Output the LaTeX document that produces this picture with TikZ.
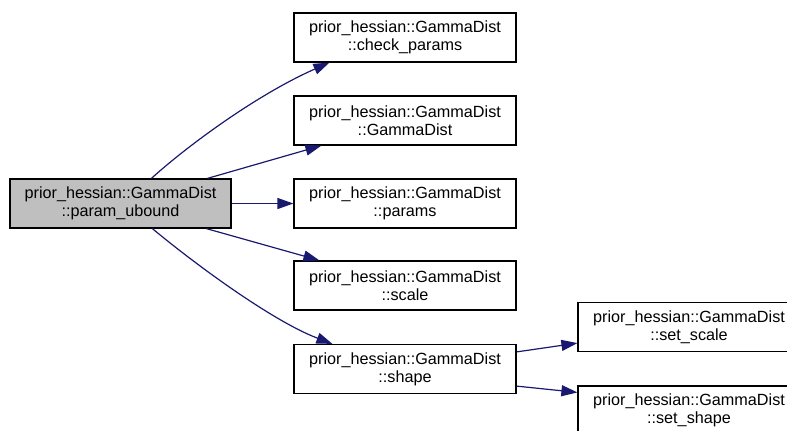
\documentclass[tikz,border=0pt]{standalone}
\usepackage{fontspec}
\setmainfont{Liberation Sans}
\usetikzlibrary{arrows.meta,calc}
\definecolor{edgeblue}{HTML}{191970}
\definecolor{nodegray}{HTML}{BFBFBF}
\begin{document}
\begin{tikzpicture}[x=1bp,y=-1bp,
  fn/.style={draw=black,line width=1.2bp,fill=white,rectangle,inner sep=0pt,
    minimum width=222bp,minimum height=49bp,align=center,
    font=\fontsize{16.2bp}{18bp}\selectfont},
  edge/.style={draw=edgeblue,line width=1.2bp,
    -{Triangle[length=16bp,width=11bp]},fill=none}]
\clip (0,0) rectangle (787,430);
\useasboundingbox (0,0) rectangle (787,430);
\node[fn,fill=nodegray,minimum width=221bp] (L) at (120.5,203.5) {prior\_hessian::GammaDist\\::param\_ubound};
\node[fn] (C) at (405,37.5) {prior\_hessian::GammaDist\\::check\_params};
\node[fn] (G) at (405,120.5) {prior\_hessian::GammaDist\\::GammaDist};
\node[fn] (P) at (405,203.5) {prior\_hessian::GammaDist\\::params};
\node[fn] (S) at (405,285.5) {prior\_hessian::GammaDist\\::scale};
\node[fn] (H) at (405,369) {prior\_hessian::GammaDist\\::shape};
\node[fn] (A) at (689,327) {prior\_hessian::GammaDist\\::set\_scale};
\node[fn] (B) at (689,410.5) {prior\_hessian::GammaDist\\::set\_shape};
\draw[edge] ([xshift=142bp]L.north west) .. controls (186,147) and (256,95) .. ([xshift=36bp]C.south west);
\draw[edge] ([xshift=198bp]L.north west) -- ([xshift=28bp]G.south west);
\draw[edge] (L.east) -- (P.west);
\draw[edge] ([xshift=197bp]L.south west) -- ([xshift=26bp]S.north west);
\draw[edge] ([xshift=143bp]L.south west) .. controls (190,260) and (270,320) .. ([xshift=39bp]H.north west);
\draw[edge] ([yshift=-8bp]H.north east) -- ([yshift=9bp]A.south west);
\draw[edge] ([yshift=8bp]H.south east) -- ([yshift=-7bp]B.north west);
\end{tikzpicture}
\end{document}
